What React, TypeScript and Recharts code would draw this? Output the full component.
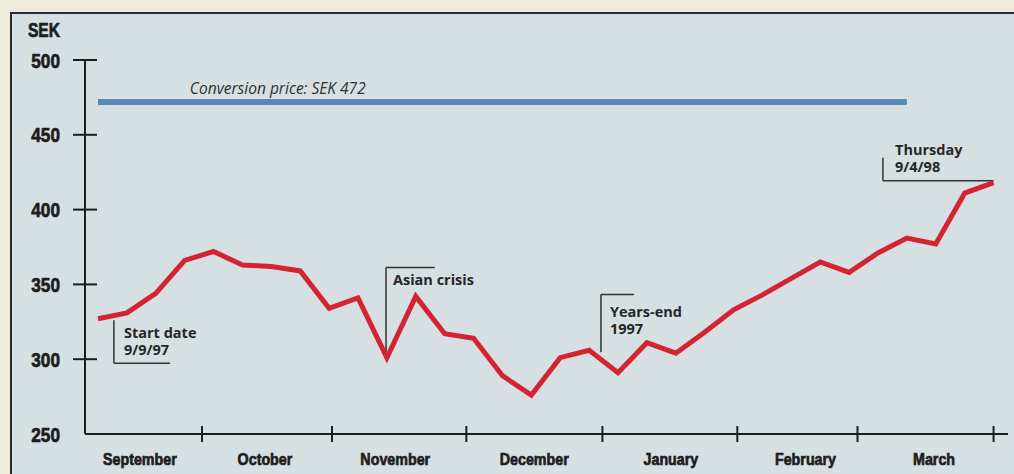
import React from "react";
import { LineChart, Line, XAxis, YAxis, ReferenceLine, ReferenceDot } from "recharts";

// weekly share price, SEK (9/9/97 .. 9/4/98)
const weekIndex = [0,1,2,3,4,5,6,7,8,9,10,11,12,13,14,15,16,17,18,19,20,21,22,23,24,25,26,27,28,29,30,31];
const priceSEK = [327,331,344,366,372,363,362,359,334,341,301,342,317,314,289,276,301,306,291,311,304,318,333,343,354,365,358,371,381,377,411,418];

const yTicks = [250, 300, 350, 400, 450, 500];
const monthNames = ["September","October","November","December","January","February","March"];
const monthBoundaries = [3.6, 8.1, 12.75, 17.46, 22.13, 26.29, 31.0];
const monthCenters = [1.45, 5.78, 10.29, 15.1, 19.83, 24.49, 28.94];

const conversionPrice = 472;
const conversionStart = 0;
const conversionEnd = 28;
const conversionLabel = "Conversion price: SEK 472";
const conversionLabelPos = { x: 3.18, y: 477.3 };

const annotations = [
  { lines: ["Start date", "9/9/97"], tx: 0.9, ty: 314, vx: 0.55, vFrom: 326, vTo: 297.3, hEnd: 2.49 },
  { lines: ["Asian crisis"], tx: 10.21, ty: 349.3, vx: 9.97, vFrom: 300.7, vTo: 361.3, hEnd: 11.66 },
  { lines: ["Years-end", "1997"], tx: 17.72, ty: 328, vx: 17.41, vFrom: 304.7, vTo: 343.3, hEnd: 18.55 },
  { lines: ["Thursday", "9/4/98"], tx: 27.59, ty: 436.7, vx: 27.17, vFrom: 434.7, vTo: 419.3, hEnd: 31 },
];

const data = weekIndex.map((i, k) => ({ i, v: priceSEK[k] }));

const condFont = "'Liberation Sans', Arial, sans-serif";
const annFont = "'Open Sans', 'Noto Sans', sans-serif";
const ink = "#1d1d1d";

const CondText = ({ x, y, size, sx, anchor, children }: any) => (
  <text transform={`translate(${x},${y}) scale(${sx},1)`} x={0} y={0} textAnchor={anchor}
    fontFamily={condFont} fontWeight={700} fontSize={size} fill={ink} stroke={ink} strokeWidth={0.7}>
    {children}
  </text>
);

const YTick = (props: any) => {
  const { x, y, payload } = props;
  return (
    <g>
      {payload.value !== 250 && (
        <line x1={x - 12} x2={x + 12} y1={y} y2={y} stroke={ink} strokeWidth={2} />
      )}
      <CondText x={x - 25} y={y + 7.5} size={21} sx={0.82} anchor="end">{payload.value}</CondText>
    </g>
  );
};

const XTick = (props: any) => {
  const { x, y, payload } = props;
  const ci = monthCenters.indexOf(payload.value);
  if (ci >= 0) {
    return <CondText x={x} y={y + 31} size={17} sx={0.84} anchor="middle">{monthNames[ci]}</CondText>;
  }
  return <line x1={x} x2={x} y1={y - 8} y2={y + 8} stroke={ink} strokeWidth={2} />;
};

const makeTextShape = (lines: string[], opts: any, lh: number) => (p: any) => (
  <g>
    {lines.map((l, k) => (
      <text key={k} x={p.cx} y={p.cy + k * lh} fontFamily={annFont} fill="#262626" {...opts}>{l}</text>
    ))}
  </g>
);

const SekLabel = (p: any) => {
  const vb = p.viewBox || { x: 0, y: 60, width: 85 };
  return <CondText x={vb.x + vb.width - 25} y={vb.y - 23} size={20} sx={0.78} anchor="end">SEK</CondText>;
};

export default function App() {
  return (
    <div style={{ position: "absolute", left: 0, top: 0, width: 1014, height: 474, overflow: "hidden", background: "#efebda" }}>
      <div style={{ position: "absolute", left: 10, top: 12, width: 1020, height: 480, border: "2px solid #2b2b2b", background: "#d6e0e3" }} />
      <div style={{ position: "absolute", left: 0, top: 0 }}>
        <LineChart width={1014} height={474} data={data} margin={{ top: 60, right: 6, bottom: 0, left: 0 }}>
          <XAxis dataKey="i" type="number" domain={[-0.45, 31.5]} allowDataOverflow
            ticks={[...monthBoundaries, ...monthCenters]} interval={0}
            tick={XTick} tickLine={false} tickSize={0} tickMargin={0} height={40}
            axisLine={{ stroke: ink, strokeWidth: 2 }} />
          <YAxis type="number" domain={[250, 500]} ticks={yTicks} interval={0} width={85}
            tick={YTick} tickLine={false} tickSize={0} tickMargin={0}
            axisLine={{ stroke: ink, strokeWidth: 2 }} label={SekLabel} />
          <ReferenceLine segment={[{ x: conversionStart, y: conversionPrice }, { x: conversionEnd, y: conversionPrice }]}
            stroke="#5689b4" strokeWidth={6} />
          <ReferenceDot x={conversionLabelPos.x} y={conversionLabelPos.y} r={0}
            shape={makeTextShape([conversionLabel], { fontSize: 15.5, fontStyle: "italic", fill: "#303030" }, 17)} />
          {annotations.map((a, k) => (
            <ReferenceLine key={"v" + k} segment={[{ x: a.vx, y: a.vFrom }, { x: a.vx, y: a.vTo }]}
              stroke="#333" strokeWidth={1.5} />
          ))}
          {annotations.map((a, k) => (
            <ReferenceLine key={"h" + k} segment={[{ x: a.vx, y: a.vTo }, { x: a.hEnd, y: a.vTo }]}
              stroke="#333" strokeWidth={1.5} />
          ))}
          {annotations.map((a, k) => (
            <ReferenceDot key={"t" + k} x={a.tx} y={a.ty} r={0}
              shape={makeTextShape(a.lines, { fontSize: 14.5, fontWeight: 700 }, 17)} />
          ))}
          <Line type="linear" dataKey="v" stroke="#d42431" strokeWidth={5} dot={false}
            isAnimationActive={false} />
        </LineChart>
      </div>
    </div>
  );
}
